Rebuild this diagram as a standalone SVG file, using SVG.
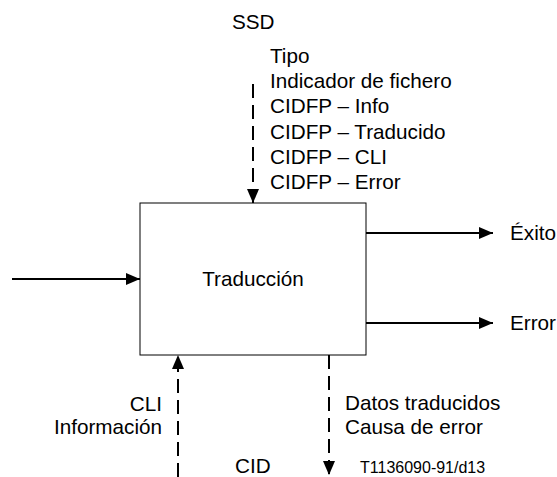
<svg xmlns="http://www.w3.org/2000/svg" width="557" height="477" viewBox="0 0 557 477">
<style>
text{font-family:"Liberation Sans",Arial,sans-serif;font-size:20.7px;fill:#000}
.s{font-size:16px}
.l{stroke:#000;stroke-width:2;fill:none}
.d{stroke-dasharray:14,7}
</style>
<defs>
<marker id="a" viewBox="0 0 14 12" refX="14" refY="6" markerWidth="14" markerHeight="12" markerUnits="userSpaceOnUse" orient="auto"><path d="M0,0L14,6L0,12z" fill="#000"/></marker>
</defs>
<rect width="557" height="477" fill="#fff"/>
<g id="node-traduccion">
<rect x="140" y="203" width="226" height="152" fill="#fff" stroke="#000" stroke-width="1"/>
<text x="253" y="286" text-anchor="middle">Traducción</text>
</g>
<g id="connectors">
<path class="l d" d="M253,84V203" marker-end="url(#a)"/>
<path class="l" d="M12,279H140" marker-end="url(#a)"/>
<path class="l" d="M366,233H493" marker-end="url(#a)"/>
<path class="l" d="M366,323H493" marker-end="url(#a)"/>
<path class="l d" d="M178,477V355" marker-end="url(#a)"/>
<path class="l d" d="M329,355V475" marker-end="url(#a)"/>
</g>
<g id="labels">
<text x="232" y="29">SSD</text>
<text x="270" y="63">Tipo</text>
<text x="270" y="88">Indicador de fichero</text>
<text x="270" y="113">CIDFP – Info</text>
<text x="270" y="138.5">CIDFP – Traducido</text>
<text x="270" y="164">CIDFP – CLI</text>
<text x="270" y="189">CIDFP – Error</text>
<text x="510" y="240">Éxito</text>
<text x="510" y="330">Error</text>
<text x="162" y="411" text-anchor="end">CLI</text>
<text x="162" y="434" text-anchor="end">Información</text>
<text x="345" y="410">Datos traducidos</text>
<text x="345" y="434">Causa de error</text>
<text x="235" y="473">CID</text>
<text class="s" x="360" y="473">T1136090-91/d13</text>
</g>
</svg>
